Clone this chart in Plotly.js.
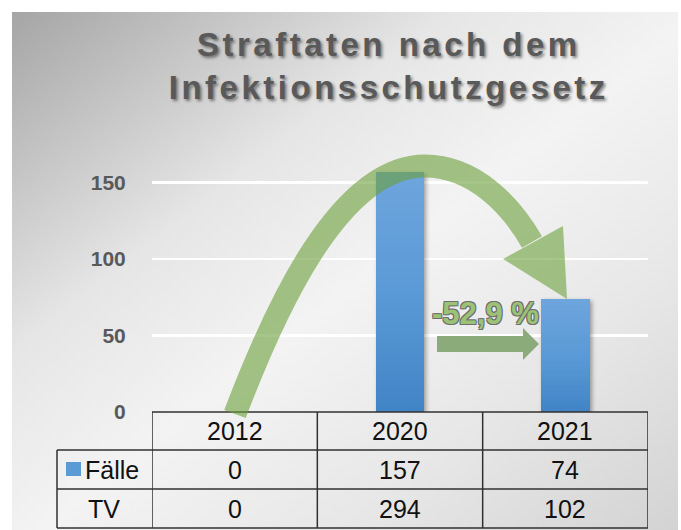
<!DOCTYPE html>
<html>
<head>
<meta charset="utf-8">
<script src="https://cdn.plot.ly/plotly-3.0.1.min.js"></script>
<style>
  html, body { margin: 0; padding: 0; background: #ffffff; }
  #wrap { position: relative; width: 681px; height: 530px; overflow: hidden; }
  #panel { position: absolute; left: 12px; top: 12px; width: 666px; height: 518px;
    background: linear-gradient(to bottom right, #a5a5a5 0%, #e6e6e6 33%, #f3f3f3 52%, #e7e7e7 75%, #d3d3d3 100%); }
  #chart { position: absolute; left: 0; top: 0; width: 681px; height: 530px; }
  .gtitle { letter-spacing: 3.5px; }
  .bars path { filter: drop-shadow(2px 2px 2px rgba(0,0,0,0.35)); }
</style>
</head>
<body>
<div id="wrap"><div id="panel"></div><div id="chart"></div></div>
<script>
// ---- data ----
const years = ['2012', '2020', '2021'];
const faelle = [0, 157, 74];
const tv = [0, 294, 102];
const rowLabels = ['Fälle', 'TV'];
const yTicks = [0, 50, 100, 150];
const titleLines = ['Straftaten nach dem', 'Infektionsschutzgesetz'];

// ---- geometry helpers (pixel -> paper) ----
const W = 681, H = 530;
const M = { l: 152, r: 33, t: 152, b: 118 };
const PW = W - M.l - M.r, PH = H - M.t - M.b;
const px = x => (x - M.l) / PW;
const py = y => (M.t + PH - y) / PH;

const change = (faelle[2] - faelle[1]) / faelle[1] * 100;
const changeText = (change < 0 ? '-' : '+') + Math.abs(change).toFixed(1).replace('.', ',') + ' %';

const green = 'rgb(108,160,58)';
const lineCol = '#303030';
const shapes = [];
const annotations = [];

// table grid
const rowY = [412, 450, 489, 528];
shapes.push({ type: 'line', xref: 'paper', yref: 'paper', x0: 0, x1: 1, y0: py(rowY[0]), y1: py(rowY[0]), line: { color: lineCol, width: 1.5 } });
for (let r = 1; r < rowY.length; r++) {
  shapes.push({ type: 'line', xref: 'paper', yref: 'paper', x0: px(57), x1: 1, y0: py(rowY[r]), y1: py(rowY[r]), line: { color: lineCol, width: 1.5 } });
}
shapes.push({ type: 'line', xref: 'paper', yref: 'paper', x0: px(57), x1: px(57), y0: py(rowY[1]), y1: py(rowY[3]), line: { color: lineCol, width: 1.5 } });
for (let i = 0; i <= years.length; i++) {
  shapes.push({ type: 'line', xref: 'x', yref: 'paper', x0: i - 0.5, x1: i - 0.5, y0: py(rowY[0]), y1: py(rowY[3]), line: { color: lineCol, width: 1.5 } });
}
// legend square
shapes.push({ type: 'rect', xref: 'paper', yref: 'paper', x0: px(66), x1: px(81), y0: py(476), y1: py(462),
  fillcolor: '#5b9bd5', line: { width: 0 } });

// table text
const tfont = { family: 'Liberation Sans, Arial, sans-serif', size: 25, color: '#111111' };
const rowCenters = [431, 469.5, 508.5];
years.forEach((yr, i) => {
  annotations.push({ x: i, xref: 'x', y: py(rowCenters[0]), yref: 'paper', text: yr, showarrow: false, font: tfont, yanchor: 'middle' });
  annotations.push({ x: i, xref: 'x', y: py(rowCenters[1]), yref: 'paper', text: String(faelle[i]), showarrow: false, font: tfont, yanchor: 'middle' });
  annotations.push({ x: i, xref: 'x', y: py(rowCenters[2]), yref: 'paper', text: String(tv[i]), showarrow: false, font: tfont, yanchor: 'middle' });
});
annotations.push({ x: px(83), xref: 'paper', xanchor: 'left', y: py(rowCenters[1]), yref: 'paper', text: rowLabels[0], showarrow: false, font: tfont, yanchor: 'middle' });
annotations.push({ x: px(104), xref: 'paper', xanchor: 'center', y: py(rowCenters[2]), yref: 'paper', text: rowLabels[1], showarrow: false, font: tfont, yanchor: 'middle' });

// big curved arrow (decoration)
const P = (x, y) => px(x).toFixed(4) + ',' + py(y).toFixed(4);
const curve = 'M' + P(235, 414) + ' C' + P(273, 314) + ' ' + P(338, 166) + ' ' + P(425, 166) +
  ' C' + P(475, 166) + ' ' + P(512, 207) + ' ' + P(532, 242);
shapes.push({ type: 'path', xref: 'paper', yref: 'paper', path: curve, layer: 'above',
  line: { color: green, width: 23 }, fillcolor: 'rgba(0,0,0,0)', opacity: 0.6 });
const head = 'M' + P(503, 259) + ' L' + P(563, 226) + ' L' + P(567, 299) + ' Z';
shapes.push({ type: 'path', xref: 'paper', yref: 'paper', path: head, layer: 'above',
  line: { width: 0 }, fillcolor: green, opacity: 0.6 });

// small straight arrow
const small = 'M' + P(437, 336) + ' L' + P(523, 336) + ' L' + P(523, 328) + ' L' + P(539, 344) +
  ' L' + P(523, 360) + ' L' + P(523, 352) + ' L' + P(437, 352) + ' Z';
shapes.push({ type: 'path', xref: 'paper', yref: 'paper', path: small, layer: 'above',
  line: { width: 0 }, fillcolor: '#8cab7b' });

annotations.push({ x: px(485), xref: 'paper', y: py(313), yref: 'paper', text: changeText, showarrow: false,
  xanchor: 'center', yanchor: 'middle',
  font: { family: 'Liberation Sans, Arial, sans-serif', size: 31, weight: 'bold', color: '#9cc276',
    shadow: '1px 1px 0 #6f6f6f, -1px -1px 0 #6f6f6f, 1px -1px 0 #6f6f6f, -1px 1px 0 #6f6f6f' } });

const data = [{
  type: 'bar', x: years, y: faelle, name: rowLabels[0], width: 0.296,
  marker: { color: '#5b9bd5', line: { width: 0 } }, showlegend: false, hoverinfo: 'skip'
}];

const layout = {
  width: W, height: H,
  margin: M,
  paper_bgcolor: 'rgba(0,0,0,0)',
  plot_bgcolor: 'rgba(0,0,0,0)',
  title: {
    text: titleLines.join('<br>'),
    x: 0.571, xref: 'container', xanchor: 'center',
    y: 0.895, yref: 'container', yanchor: 'top',
    font: { family: 'Liberation Sans, Arial, sans-serif', size: 33, weight: 'bold', color: '#595959',
      shadow: '2px 2px 3px rgba(0,0,0,0.45)' }
  },
  xaxis: { type: 'category', range: [-0.5, 2.5], showticklabels: false, showgrid: false, zeroline: false,
    showline: false, ticks: '', fixedrange: true },
  yaxis: { range: [0, 170], tickvals: yTicks, ticktext: yTicks.map(String), showgrid: true,
    gridcolor: '#ffffff', gridwidth: 2.5, zeroline: false, showline: false,
    ticks: 'outside', ticklen: 21, tickcolor: 'rgba(0,0,0,0)',
    tickfont: { family: 'Liberation Sans, Arial, sans-serif', size: 21, weight: 'bold', color: '#595959' } },
  shapes: shapes,
  annotations: annotations,
  bargap: 0
};

Plotly.newPlot('chart', data, layout, { displayModeBar: false, staticPlot: true }).then(gd => {
  const svg = gd.querySelector('svg.main-svg');
  const ns = 'http://www.w3.org/2000/svg';
  let defs = svg.querySelector('defs');
  if (!defs) { defs = document.createElementNS(ns, 'defs'); svg.insertBefore(defs, svg.firstChild); }
  const g = document.createElementNS(ns, 'linearGradient');
  g.setAttribute('id', 'barGrad'); g.setAttribute('x1', '0'); g.setAttribute('y1', '0');
  g.setAttribute('x2', '0'); g.setAttribute('y2', '1');
  [['0%', '#6ea5dd'], ['50%', '#5a9ad6'], ['100%', '#4184c6']].forEach(([o, c]) => {
    const s = document.createElementNS(ns, 'stop'); s.setAttribute('offset', o); s.setAttribute('stop-color', c); g.appendChild(s);
  });
  defs.appendChild(g);
  gd.querySelectorAll('.bars path').forEach(p => { p.style.fill = 'url(#barGrad)'; });
});
</script>
</body>
</html>
